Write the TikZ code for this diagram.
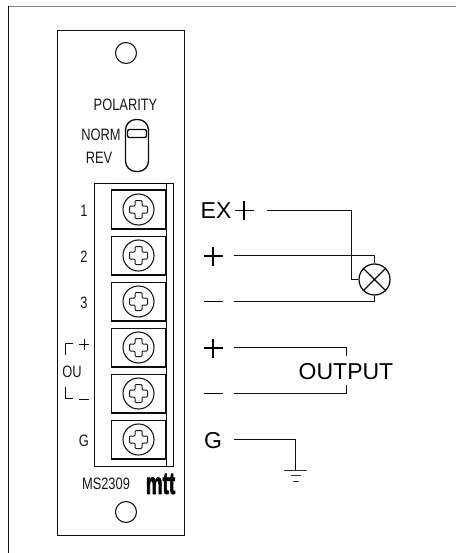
\documentclass[tikz,border=0pt]{standalone}
\usepackage{fontspec}
\setmainfont{Liberation Sans}
\newfontfamily\logofont[BoldFeatures={FakeBold=3}]{Liberation Sans}
\tikzset{
  ln/.style={draw=black!95,line width=1.35pt},
  thin line/.style={draw=black!90,line width=1pt},
  lab/.style={inner sep=0pt,text=black!90,font=\fontsize{16.5}{17}\selectfont,xscale=.78,transform shape},
  big/.style={inner sep=0pt,text=black,font=\fontsize{23}{24}\selectfont},
  screwc/.style={circle,draw=black!90,line width=1.1pt,minimum size=31pt,inner sep=0pt},
  hole/.style={circle,draw=black!90,line width=1.1pt,minimum size=21pt,inner sep=0pt},
  lamp/.style={circle,draw=black,line width=1.2pt,minimum size=31pt,inner sep=0pt},
  termbox/.style={draw=black!95,line width=1.35pt,minimum width=54.65pt,minimum height=38.65pt,inner sep=0pt},
}
\newcommand{\crossat}[2]{%
  \draw[thin line,rounded corners=1pt,shift={(#1,#2)}] (-3.5,-9)--(3.5,-9)--(3.5,-3.5)--(9,-3.5)--(9,3.5)--(3.5,3.5)--(3.5,9)--(-3.5,9)--(-3.5,3.5)--(-9,3.5)--(-9,-3.5)--(-3.5,-3.5)--cycle;}
\newcommand{\plusat}[2]{%
  \draw[draw=black,line width=1.5pt,shift={(#1,#2)}] (-9.5,0)--(9.5,0) (0,-9.5)--(0,9.5);}
\newcommand{\minusat}[2]{%
  \draw[draw=black,line width=1.8pt,shift={(#1,#2)}] (-9.5,0)--(9.5,0);}
\begin{document}
\begin{tikzpicture}[x=1pt,y=-1pt]
\useasboundingbox (0,0) rectangle (456,553);
% outer frame
\draw[draw=black!50,line width=1.8pt] (8,6.5)--(456,6.5);
\draw[ln] (8.5,6)--(8.5,553);
% panel
\draw[ln,line width=1.5pt] (57.5,30.5) rectangle (184.5,535.5);
\node[hole] (holetop) at (126,53) {};
\node[hole] (holebot) at (126,512) {};
\node[lab] (pol) at (125.5,105) {POLARITY};
\node[lab] (norm) at (101,135) {NORM};
\node[lab] (rev) at (99,158) {REV};
\draw[ln,rounded corners=10.5pt] (125.5,119.5) rectangle (148.5,171.5);
\draw[ln,rounded corners=2pt] (127.5,129.5) rectangle (146.5,137.5);
% terminal block
\draw[ln] (94.5,183.5) rectangle (173.5,466.5);
\draw[draw=black,line width=1.8pt] (111,183.5)--(166.5,183.5);
\draw[ln] (166.5,183.5)--(166.5,466.5);
\foreach \n/\y in {1/209.5,2/255.5,3/301.5,4/347.5,5/393.5,6/439.5}{
  \node[termbox] (t\n) at (138.5,\y) {};
  \node[screwc] (s\n) at (138.5,\y) {};
  \crossat{138.5}{\y}
}
% panel labels
\node[lab] (l1) at (84,210.5) {1};
\node[lab] (l2) at (84,257) {2};
\node[lab] (l3) at (84,303) {3};
\draw[ln] (65.5,355)--(65.5,343.5)--(73,343.5);
\draw[ln] (79,344.5)--(89,344.5) (84.5,339)--(84.5,350);
\node[lab] (lou) at (72,372) {OU};
\draw[ln] (65.5,387)--(65.5,398.5)--(73,398.5);
\draw[ln,line width=1.5pt] (79,399.5)--(89,399.5);
\node[lab] (lg) at (84,441) {G};
\node[lab] (model) at (106,484) {MS2309};
\node[inner sep=0pt,text=black,font=\logofont\fontsize{21}{22}\bfseries\selectfont,yscale=1.45,xscale=.9,transform shape] (logo) at (160.5,484) {mtt};
% right labels
\node[big,anchor=center] (ex) at (216,210.5) {EX};
\plusat{244}{210.5}
\plusat{213}{256}
\minusat{213}{301.5}
\plusat{213}{348}
\minusat{213}{393.5}
\node[big] (g) at (213,441) {G};
\node[big] (out) at (346,371.5) {OUTPUT};
% lamp
\node[lamp] (lmp) at (374.5,279.5) {};
\draw[ln] (lmp.north west)--(lmp.south east) (lmp.north east)--(lmp.south west);
\coordinate (a) at (267,210.5);
\coordinate (b) at (233.5,255.5);
\coordinate (c) at (233.5,301.5);
\coordinate (d) at (233.5,347.5);
\coordinate (e) at (233.5,393.5);
\coordinate (f) at (234,439.5);
\coordinate (gnd) at (295.5,470);
\draw[ln] (a)-|(351.5,279.5)--(lmp.west);
\draw[ln] (b)-|(lmp.north);
\draw[ln] (c)-|(lmp.south);
\draw[ln] (d)-|(346.5,356);
\draw[ln] (e)-|(346.5,385);
\draw[ln] (f)-|(gnd);
\draw[draw=black!80,line width=1.6pt] (284,470.5)--(307,470.5);
\draw[draw=black!80,line width=1.2pt] (291,475.5)--(301,475.5);
\draw[draw=black!80,line width=1.2pt] (292.5,481.5)--(298.5,481.5);
\end{tikzpicture}
\end{document}
